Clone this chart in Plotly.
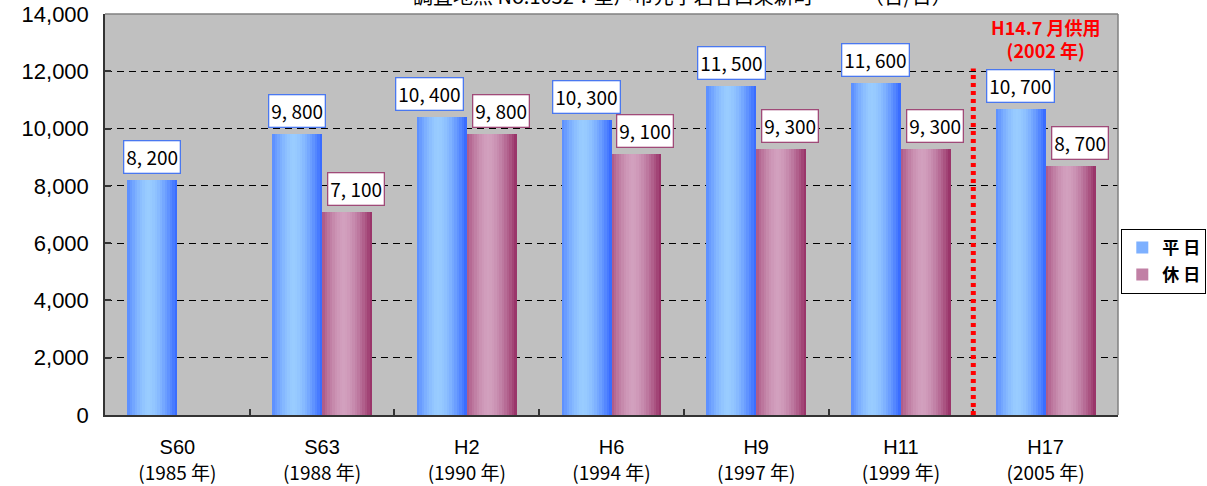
import plotly.graph_objects as go

# ---- data ----
periods = ["S60", "S63", "H2", "H6", "H9", "H11", "H17"]
years = ["(1985 年)", "(1988 年)", "(1990 年)", "(1994 年)", "(1997 年)", "(1999 年)", "(2005 年)"]
weekday = [8200, 9800, 10400, 10300, 11500, 11600, 10700]
holiday = [None, 7100, 9800, 9100, 9300, 9300, 8700]
y_ticks = [0, 2000, 4000, 6000, 8000, 10000, 12000, 14000]

x_idx = list(range(len(periods)))
BAR_W = 0.345
N_STRIPS = 20


def mix(c1, c2, f):
    return "rgb(%d,%d,%d)" % tuple(round(a + (b - a) * f) for a, b in zip(c1, c2))


def light_factor(t):
    # brightest slightly left of centre, dark at both edges
    d = abs(t - 0.43) / 0.57
    return max(0.0, 1 - d ** 1.6)


series = [
    ("平 日", weekday, -BAR_W, (51, 102, 255), (153, 204, 255)),
    ("休 日", holiday, 0.0, (150, 45, 100), (210, 160, 190)),
]

fig = go.Figure()
for name, vals, base, dark, light in series:
    w = BAR_W / N_STRIPS
    for k in range(N_STRIPS):
        t = (k + 0.5) / N_STRIPS
        fig.add_trace(go.Bar(
            x=x_idx, y=vals, offset=base + k * w, width=w,
            marker=dict(color=mix(dark, light, light_factor(t)), line=dict(width=0)),
            name=name, legendgroup=name,
            showlegend=(k == 3),
            hoverinfo="skip",
        ))

# value labels above each bar
label_font = dict(family="Noto Sans CJK JP", size=19, color="black")
for i in x_idx:
    wv, hv = weekday[i], holiday[i]
    blue_shift = 0
    if hv is not None and abs(wv - hv) < 900:
        blue_shift = -12
    fig.add_annotation(
        x=i - BAR_W / 2, y=wv, xref="x", yref="y",
        text=f"{wv // 1000}, {wv % 1000:03d}", showarrow=False,
        yanchor="bottom", yshift=6, xshift=blue_shift,
        bgcolor="white", bordercolor="#4a78f0", borderwidth=1.3, borderpad=2,
        font=label_font,
    )
    if hv is not None:
        fig.add_annotation(
            x=i + BAR_W / 2, y=hv, xref="x", yref="y",
            text=f"{hv // 1000}, {hv % 1000:03d}", showarrow=False,
            yanchor="bottom", yshift=6, xshift=9,
            bgcolor="white", bordercolor="#a04a78", borderwidth=1.3, borderpad=2,
            font=label_font,
        )

# opening of the bypass (July 2002)
fig.add_shape(type="line", xref="x", yref="y", x0=5.5, x1=5.5, y0=0, y1=12100,
              line=dict(color="#ff0000", width=5, dash="4px,4px"))
fig.add_annotation(
    x=6.0, y=1.0, xref="x", yref="paper", yanchor="top", yshift=2,
    text="H14.7 月供用<br>(2002 年)", showarrow=False,
    font=dict(family="Noto Sans CJK JP", size=18, color="#ff0000", weight="bold"),
)

# survey point heading
fig.add_annotation(
    x=0.57, y=1.045, xref="paper", yref="paper", yanchor="middle",
    text="調査地点 No.1032：室戸市元字岩谷口東新町　　　（台/日）",
    showarrow=False, font=dict(family="Noto Sans CJK JP", size=20, color="black"),
)

ticktext = [f"{p}<br><span style='font-size:19px;font-family:Noto Sans CJK JP'>{y}</span>"
            for p, y in zip(periods, years)]

fig.update_layout(
    width=1207, height=486,
    margin=dict(l=105, r=89, t=14, b=71, autoexpand=False),
    paper_bgcolor="white", plot_bgcolor="#c0c0c0",
    barmode="overlay", bargap=0,
    font=dict(family="Liberation Sans, Arial", color="black"),
    legend=dict(
        xref="container", yref="container",
        x=0.929, y=0.462, xanchor="left", yanchor="middle",
        bgcolor="white", bordercolor="black", borderwidth=1,
        font=dict(family="Noto Sans CJK JP", size=17, color="black", weight="bold"),
        itemwidth=30, tracegroupgap=2,
    ),
    xaxis=dict(
        range=[-0.5, 6.5], tickmode="array", tickvals=x_idx, ticktext=ticktext,
        tickfont=dict(size=20), showgrid=False, zeroline=False, automargin=False,
        showline=True, linecolor="#333333", linewidth=1.5, mirror=False,
        ticks="", ticklabelstandoff=13,
        minor=dict(tickvals=[k + 0.5 for k in x_idx[:-1]], ticks="inside",
                   ticklen=6, tickcolor="#333333", tickwidth=1.5, showgrid=False),
    ),
    yaxis=dict(
        range=[0, 14000], tickmode="array", tickvals=y_ticks,
        tickformat=",d", tickfont=dict(size=22), automargin=False,
        showgrid=True, gridcolor="black", gridwidth=1, griddash="7px,5px",
        zeroline=False, showline=True, linecolor="#333333", linewidth=1.5, mirror=False,
        ticks="inside", ticklen=6, tickcolor="#333333", tickwidth=1.5, ticklabelstandoff=10,
    ),
)
fig.add_shape(type="line", xref="paper", yref="paper", x0=0, x1=1, y0=1, y1=1,
              line=dict(color="#808080", width=1.5), layer="above")
fig.add_shape(type="line", xref="paper", yref="paper", x0=1, x1=1, y0=0, y1=1,
              line=dict(color="#808080", width=1.5), layer="above")

fig.write_html("out.html")
